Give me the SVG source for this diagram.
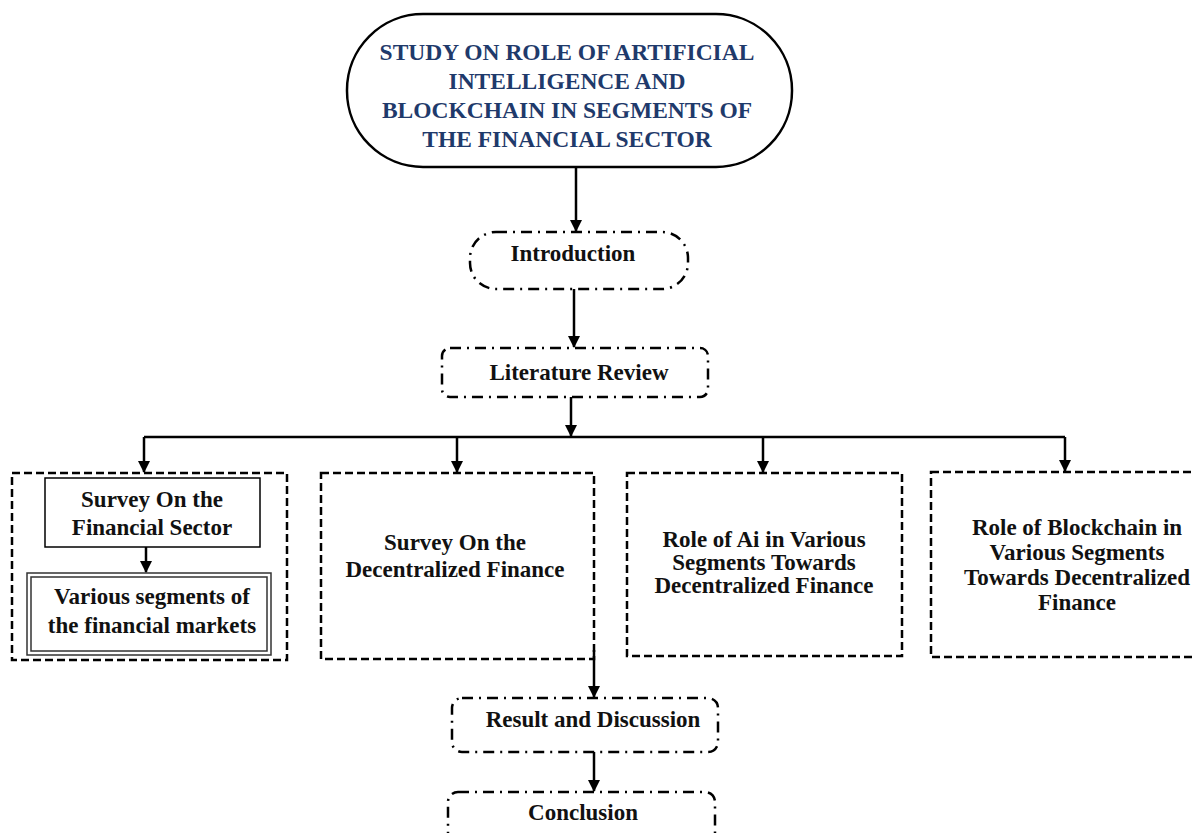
<svg xmlns="http://www.w3.org/2000/svg" width="1193" height="833" viewBox="0 0 1193 833">
<defs>
<marker id="ah" markerUnits="userSpaceOnUse" markerWidth="12" markerHeight="12" viewBox="0 0 12 12" refX="11" refY="6" orient="auto">
<path d="M0,0 L12,6 L0,12 Z" fill="#000"/>
</marker>
<style>
.t{font-family:"Liberation Serif","Times New Roman",serif;font-weight:bold;font-size:23px;fill:#111;text-anchor:middle}
.title{fill:#1F3A6B;font-size:23.5px}
.dd{fill:#fff;stroke:#000;stroke-width:2.5;stroke-dasharray:11 6 2 6}
.ds{fill:#fff;stroke:#000;stroke-width:2.5;stroke-dasharray:8 4}
.ln{fill:none;stroke:#000;stroke-width:2.5}
</style>
</defs>
<rect width="1193" height="833" fill="#fff"/>

<g id="title">
<rect x="347" y="14" width="445" height="153" rx="76" ry="76" fill="#fff" stroke="#000" stroke-width="2.5"/>
<text class="t title" x="567" y="60">STUDY ON ROLE OF ARTIFICIAL</text>
<text class="t title" x="567" y="89">INTELLIGENCE AND</text>
<text class="t title" x="567" y="118">BLOCKCHAIN IN SEGMENTS OF</text>
<text class="t title" x="567" y="147">THE FINANCIAL SECTOR</text>
</g>

<g id="introduction">
<rect class="dd" x="470" y="232" width="218" height="57" rx="26"/>
<text class="t" x="573" y="261">Introduction</text>
</g>

<g id="literature">
<rect class="dd" x="442" y="348" width="266" height="49" rx="8"/>
<text class="t" x="579" y="380">Literature Review</text>
</g>

<g id="survey-financial">
<rect class="ds" x="12" y="473" width="275" height="187"/>
<rect x="45" y="478" width="215" height="69" fill="#fff" stroke="#000" stroke-width="1.5"/>
<text class="t" x="152" y="507">Survey On the</text>
<text class="t" x="152" y="535">Financial Sector</text>
</g>

<g id="segments">
<rect x="27" y="573" width="244" height="82" fill="#fff" stroke="#333" stroke-width="1.5"/>
<rect x="31" y="577" width="236" height="74" fill="none" stroke="#333" stroke-width="1.5"/>
<text class="t" x="152" y="604">Various segments of</text>
<text class="t" x="152" y="633">the financial markets</text>
</g>

<g id="survey-defi">
<rect class="ds" x="321" y="473" width="273" height="186"/>
<text class="t" x="455" y="550">Survey On the</text>
<text class="t" x="455" y="577">Decentralized Finance</text>
</g>

<g id="role-ai">
<rect class="ds" x="627" y="473" width="275" height="183"/>
<text class="t" x="764" y="547">Role of Ai in Various</text>
<text class="t" x="764" y="570">Segments Towards</text>
<text class="t" x="764" y="593">Decentralized Finance</text>
</g>

<g id="role-blockchain">
<rect class="ds" x="931" y="472" width="290" height="185"/>
<text class="t" x="1077" y="535">Role of Blockchain in</text>
<text class="t" x="1077" y="560">Various Segments</text>
<text class="t" x="1077" y="585">Towards Decentralized</text>
<text class="t" x="1077" y="610">Finance</text>
</g>

<g id="result">
<rect class="dd" x="452" y="698" width="266" height="54" rx="10"/>
<text class="t" x="593" y="727">Result and Discussion</text>
</g>

<g id="conclusion">
<rect class="dd" x="448" y="792" width="267" height="70" rx="10"/>
<text class="t" x="583" y="820">Conclusion</text>
</g>

<g id="connectors">
<path class="ln" d="M576,167 V231" marker-end="url(#ah)"/>
<path class="ln" d="M574,289 V347" marker-end="url(#ah)"/>
<path class="ln" d="M571,397 V436" marker-end="url(#ah)"/>
<path class="ln" d="M144,437 H1065"/>
<path class="ln" d="M144,437 V472" marker-end="url(#ah)"/>
<path class="ln" d="M457,437 V472" marker-end="url(#ah)"/>
<path class="ln" d="M763,437 V472" marker-end="url(#ah)"/>
<path class="ln" d="M1065,437 V471" marker-end="url(#ah)"/>
<path class="ln" d="M146,547 V572" marker-end="url(#ah)"/>
<path class="ln" d="M594,650 V697" marker-end="url(#ah)"/>
<path class="ln" d="M594,752 V791" marker-end="url(#ah)"/>
</g>
</svg>
